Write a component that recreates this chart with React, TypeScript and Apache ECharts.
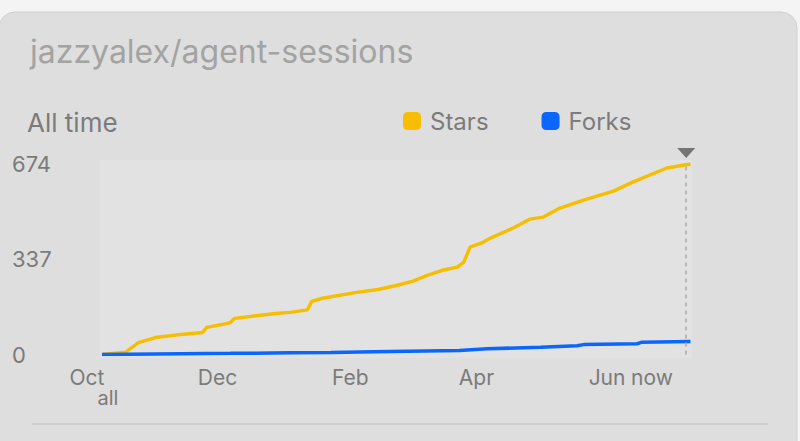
import React, { useEffect, useRef } from "react";
import * as echarts from "echarts";

// Day offsets from Oct 1
const starDays = [7, 18, 24, 32, 44, 54, 56, 63, 67, 69, 88, 95, 103, 105, 110, 126, 136, 145, 152, 159, 166, 173, 176, 177, 179, 185, 188, 199, 207, 213, 221, 232, 246, 255, 263, 271, 282];
const starValues = [0, 8, 42, 60, 71, 78, 96, 106, 113, 128, 145, 149, 158, 188, 199, 220, 230, 245, 259, 280, 298, 309, 326, 344, 380, 397, 410, 447, 479, 486, 518, 546, 578, 610, 635, 660, 674];

const forkDays = [7, 32, 67, 95, 114, 134, 174, 187, 212, 229, 232, 257, 259, 282];
const forkValues = [0, 2, 4, 6, 7, 10, 14, 20, 26, 31, 35, 38, 43, 46];

const tickDays = [0, 61, 123, 182, 243, 264];
const tickLabels = ["Oct", "Dec", "Feb", "Apr", "Jun", "now"];

const yTicks = [0, 337, 674];
const nowDay = 280;

const FONT = "Inter, 'Noto Sans', sans-serif";
const TEXT = "#7b7b7b";

export default function App() {
  const ref = useRef<HTMLDivElement>(null);
  useEffect(() => {
    if (!ref.current) return;
    const chart = echarts.init(ref.current, null, { renderer: "svg" });
    chart.setOption({
      animation: false,
      backgroundColor: "#f4f4f4",
      textStyle: { fontFamily: FONT },
      title: [
        {
          text: "jazzyalex/agent-sessions",
          left: 25,
          top: 30,
          textStyle: { fontFamily: FONT, fontSize: 32, fontWeight: 400, color: "#a3a3a3" },
        },
        {
          text: "All time",
          left: 22,
          top: 104,
          textStyle: { fontFamily: FONT, fontSize: 26, fontWeight: 400, color: TEXT },
        },
      ],
      legend: {
        left: 398,
        top: 104,
        icon: "roundRect",
        itemWidth: 18,
        itemHeight: 18,
        itemGap: 53,
        textStyle: { fontFamily: FONT, fontSize: 24, color: TEXT, padding: [0, 0, 0, 4] },
        data: ["Stars", "Forks"],
      },
      graphic: [
        {
          type: "rect",
          z: -10,
          shape: { x: -1, y: 12, width: 798, height: 470, r: 16 },
          style: { fill: "#dedede", stroke: "#d0d0d0", lineWidth: 1 },
          silent: true,
        },
        {
          type: "rect",
          z: -9,
          shape: { x: 100, y: 160, width: 592, height: 198 },
          style: { fill: "rgba(255,255,255,0.12)" },
          silent: true,
        },
        {
          type: "line",
          shape: { x1: 32, y1: 424, x2: 768, y2: 424 },
          style: { stroke: "#c8c8c8", lineWidth: 1.5 },
          silent: true,
        },
        {
          type: "text",
          x: 108,
          y: 398,
          style: {
            text: "all",
            fontFamily: FONT,
            fontSize: 20,
            fill: TEXT,
            textAlign: "center",
            textVerticalAlign: "middle",
          },
          silent: true,
        },
      ],
      grid: { left: 87, right: 109.5, top: 164, bottom: 86.5 },
      xAxis: {
        type: "value",
        min: 0,
        max: 282,
        axisLine: { show: false },
        axisTick: { show: false },
        splitLine: { show: false },
        axisLabel: {
          customValues: tickDays,
          formatter: (v: number) => tickLabels[tickDays.indexOf(v)] ?? "",
          fontFamily: FONT,
          fontSize: 21,
          color: TEXT,
          margin: 12,
        },
      },
      yAxis: {
        type: "value",
        min: 0,
        max: 674,
        interval: 337,
        axisLine: { show: false },
        axisTick: { show: false },
        splitLine: { show: false },
        axisLabel: {
          customValues: yTicks,
          align: "left",
          margin: 75,
          fontFamily: FONT,
          fontSize: 22,
          color: TEXT,
        },
      },
      series: [
        {
          name: "Stars",
          type: "line",
          showSymbol: false,
          z: 2,
          color: "#f7be00",
          lineStyle: { width: 3.4, color: "#f7be00" },
          data: starDays.map((d, i) => [d, starValues[i]]),
          markLine: {
            silent: true,
            symbol: "none",
            label: { show: false },
            lineStyle: { type: [4, 4], color: "#a8a8a8", width: 1.5 },
            data: [{ xAxis: nowDay }],
          },
          markPoint: {
            silent: true,
            symbol: "path://M0,0L10,0L5,6Z",
            symbolSize: [18, 10],
            symbolOffset: [0, -11],
            itemStyle: { color: "#747474" },
            label: { show: false },
            data: [{ coord: [nowDay, 674] }],
          },
        },
        {
          name: "Forks",
          type: "line",
          showSymbol: false,
          z: 3,
          color: "#0b67fb",
          lineStyle: { width: 3.5, color: "#0b67fb" },
          data: forkDays.map((d, i) => [d, forkValues[i]]),
        },
      ],
    });
    return () => chart.dispose();
  }, []);
  return (
    <div
      ref={ref}
      style={{ position: "fixed", left: 0, top: 0, width: 800, height: 441 }}
    />
  );
}
